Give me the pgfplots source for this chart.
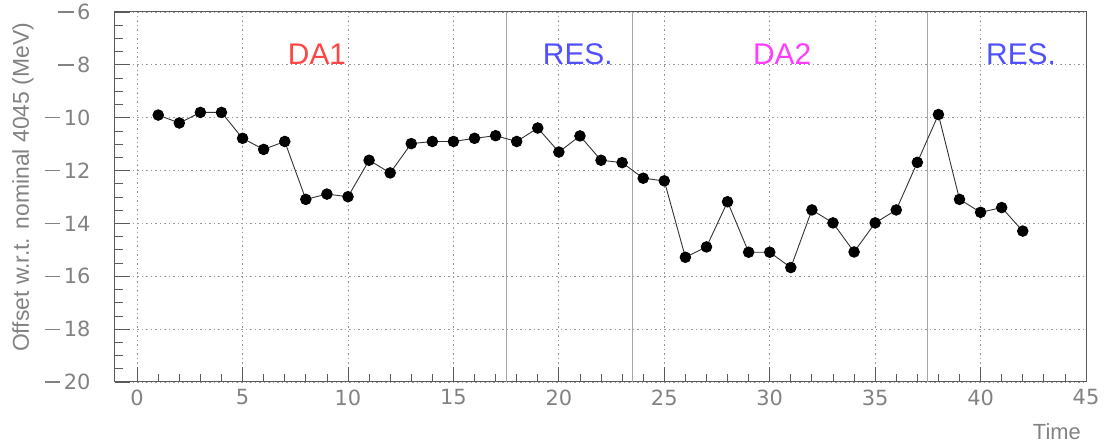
\documentclass[border=0pt]{standalone}
\usepackage{pgfplots}
\pgfplotsset{compat=1.18}
\usepackage{fontspec}
\setmainfont{Liberation Sans}
\newfontfamily\tickfont{DejaVu Sans}
\definecolor{tickgray}{RGB}{130,130,130}
\definecolor{framegray}{RGB}{90,90,90}
\definecolor{dared}{RGB}{255,70,70}
\definecolor{resblue}{RGB}{80,80,255}
\definecolor{damag}{RGB}{255,60,255}
\begin{document}
\begin{tikzpicture}[x=1bp,y=1bp]
\useasboundingbox (-115,-64) rectangle (991,382);
\begin{axis}[
  at={(0,0)}, anchor=south west,
  scale only axis, width=971bp, height=370bp,
  xmin=-1.05, xmax=45, ymin=-20, ymax=-6,
  xtick={0,5,...,45}, ytick={-20,-18,...,-6},
  yticklabels={{\rule[0.33em]{0.75em}{0.06em}\,20},{\rule[0.33em]{0.75em}{0.06em}\,18},{\rule[0.33em]{0.75em}{0.06em}\,16},{\rule[0.33em]{0.75em}{0.06em}\,14},{\rule[0.33em]{0.75em}{0.06em}\,12},{\rule[0.33em]{0.75em}{0.06em}\,10},{\rule[0.33em]{0.75em}{0.06em}\,8},{\rule[0.33em]{0.75em}{0.06em}\,6}},
  minor x tick num=4, minor y tick num=3,
  xtick pos=bottom, ytick pos=left,
  tick align=inside, major tick length=15bp, minor tick length=8bp,
  grid=major, major grid style={dash pattern=on 1.5bp off 3bp, gray!80, line width=0.8bp},
  axis line style={framegray, line width=1bp},
  tick style={framegray, line width=0.8bp},
  ticklabel style={font=\tickfont\fontsize{21}{21}\selectfont, text=tickgray},
  xticklabel style={yshift=-4bp},
  yticklabel style={xshift=-21bp},
  /pgf/number format/assume math mode=true,
  ylabel={Offset w.r.t. nominal 4045 (MeV)},
  ylabel style={at={(axis description cs:-0.0947,0.526)}, anchor=center, font=\fontsize{23}{23}\selectfont, text=tickgray},
  xlabel={Time},
  xlabel style={at={(axis description cs:0.970,-0.135)}, anchor=center, font=\fontsize{22}{22}\selectfont, text=tickgray},
  clip=false,
]
\addplot[gray!70, line width=1bp] coordinates {(17.5,-20) (17.5,-6)};
\addplot[gray!70, line width=1bp] coordinates {(23.5,-20) (23.5,-6)};
\addplot[gray!70, line width=1bp] coordinates {(37.5,-20) (37.5,-6)};
\addplot[black!80, line width=0.9bp, mark=*, mark size=5.3bp, mark options={fill=black, draw=black, solid}] coordinates {
(1,-9.90) (2,-10.20) (3,-9.80) (4,-9.80) (5,-10.78) (6,-11.20) (7,-10.90)
(8,-13.09) (9,-12.89) (10,-12.99) (11,-11.61) (12,-12.09) (13,-10.98)
(14,-10.90) (15,-10.90) (16,-10.78) (17,-10.68) (18,-10.90) (19,-10.39)
(20,-11.30) (21,-10.69) (22,-11.61) (23,-11.70) (24,-12.29) (25,-12.39)
(26,-15.28) (27,-14.89) (28,-13.18) (29,-15.09) (30,-15.09) (31,-15.67)
(32,-13.49) (33,-13.98) (34,-15.08) (35,-13.98) (36,-13.49) (37,-11.69)
(38,-9.88) (39,-13.09) (40,-13.58) (41,-13.40) (42,-14.29)
};
\node[anchor=base, text=dared, font=\fontsize{30}{30}\selectfont] at (axis cs:8.53,-8) {DA1};
\node[anchor=base, text=resblue, font=\fontsize{30}{30}\selectfont] at (axis cs:20.9,-8) {RES.};
\node[anchor=base, text=damag, font=\fontsize{30}{30}\selectfont] at (axis cs:30.59,-8) {DA2};
\node[anchor=base, text=resblue, font=\fontsize{30}{30}\selectfont] at (axis cs:41.92,-8) {RES.};
\end{axis}
\end{tikzpicture}
\end{document}
